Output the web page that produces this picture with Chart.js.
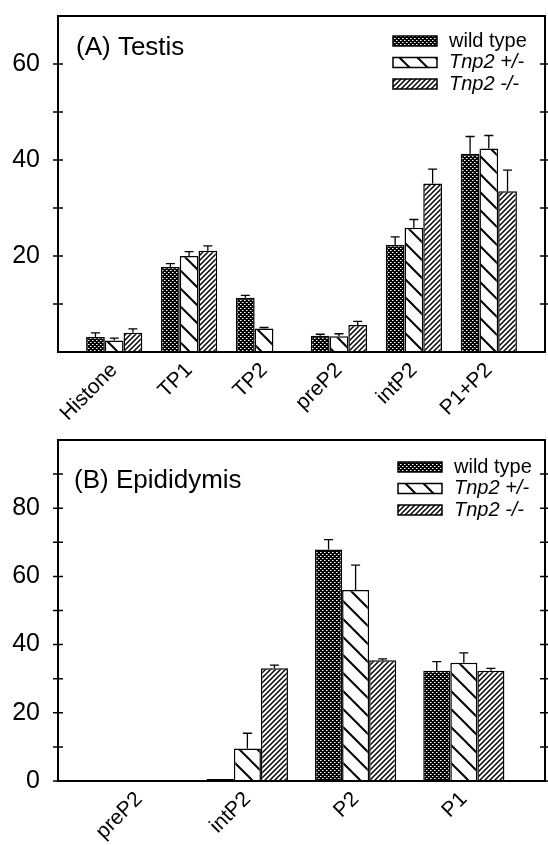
<!DOCTYPE html>
<html>
<head>
<meta charset="utf-8">
<script src="https://cdn.jsdelivr.net/npm/chart.js@4.4.0/dist/chart.umd.min.js"></script>
<style>
  html, body { margin: 0; padding: 0; background: #fff; }
  #wrap { position: relative; width: 548px; height: 845px; }
  canvas { position: absolute; left: 0; }
  #testis { top: 0; }
  #epididymis { top: 420px; }
</style>
</head>
<body>
<div id="wrap">
  <canvas id="testis" width="548" height="420"></canvas>
  <canvas id="epididymis" width="548" height="425"></canvas>
</div>
<script>
const seriesNames = ['wild type', 'Tnp2 +/-', 'Tnp2 -/-'];

// (A) Testis
const testisCategories = ['Histone', 'TP1', 'TP2', 'preP2', 'intP2', 'P1+P2'];
const testisWild = [3.1, 17.7, 11.3, 3.4, 22.3, 41.3];
const testisWildErr = [0.9, 0.7, 0.5, 0.3, 1.7, 3.6];
const testisHet = [2.4, 20.0, 4.9, 3.3, 25.9, 42.4];
const testisHetErr = [0.5, 0.9, 0.2, 0.5, 1.7, 2.7];
const testisNull = [4.0, 21.1, 0, 5.6, 35.1, 33.5];
const testisNullErr = [0.8, 1.0, 0, 0.8, 3.0, 4.4];

// (B) Epididymis
const epiCategories = ['preP2', 'intP2', 'P2', 'P1'];
const epiWild = [0, 0.6, 67.9, 32.3];
const epiWildErr = [0, 0, 2.9, 2.7];
const epiHet = [0, 9.5, 56.0, 34.7];
const epiHetErr = [0, 4.5, 7.3, 2.9];
const epiNull = [0, 33.1, 35.4, 32.3];
const epiNullErr = [0, 0.9, 0.4, 0.7];

const FONT = "'Liberation Sans', Arial, Helvetica, sans-serif";
Chart.defaults.font.family = FONT;
Chart.defaults.color = '#000';

function makePattern(size, draw) {
  const c = document.createElement('canvas');
  c.width = size;
  c.height = size;
  const g = c.getContext('2d');
  g.fillStyle = '#fff';
  g.fillRect(0, 0, size, size);
  draw(g, size);
  return g.createPattern(c, 'repeat');
}

const ctxA = document.getElementById('testis').getContext('2d');

// dark checker with little white dots
const wildFill = makePattern(4, (g) => {
  g.fillStyle = '#000';
  g.fillRect(0, 0, 4, 4);
  g.fillStyle = '#fff';
  g.fillRect(0, 0, 1, 1);
  g.fillRect(2, 2, 1, 1);
  g.fillStyle = '#888';
  g.fillRect(1, 0, 1, 1);
  g.fillRect(3, 2, 1, 1);
});

// wide "\" hatch
const hetFill = makePattern(18, (g, s) => {
  g.strokeStyle = '#000';
  g.lineWidth = 2;
  [-s, 0, s].forEach((off) => {
    g.beginPath();
    g.moveTo(off - 2, -2);
    g.lineTo(off + s + 2, s + 2);
    g.stroke();
  });
});

// dense "/" hatch
const nullFill = makePattern(5, (g, s) => {
  g.strokeStyle = '#000';
  g.lineWidth = 1.5;
  [-s, 0, s].forEach((off) => {
    g.beginPath();
    g.moveTo(off - 2, s + 2);
    g.lineTo(off + s + 2, -2);
    g.stroke();
  });
});

const fills = [wildFill, hetFill, nullFill];

const panelPlugin = {
  id: 'panel',
  afterDatasetsDraw(chart, args, opts) {
    const ctx = chart.ctx;
    const y = chart.scales.y;
    ctx.save();
    ctx.strokeStyle = '#000';
    ctx.lineWidth = 1.3;
    chart.data.datasets.forEach((ds, i) => {
      const meta = chart.getDatasetMeta(i);
      meta.data.forEach((bar, j) => {
        const e = ds.errors[j];
        if (!e) return;
        const top = y.getPixelForValue(ds.data[j] + e);
        ctx.beginPath();
        ctx.moveTo(bar.x, bar.y);
        ctx.lineTo(bar.x, top);
        ctx.moveTo(bar.x - 4.5, top);
        ctx.lineTo(bar.x + 4.5, top);
        ctx.stroke();
      });
    });
    ctx.restore();
  },
  afterDraw(chart, args, opts) {
    const ctx = chart.ctx;
    const a = chart.chartArea;
    const y = chart.scales.y;
    ctx.save();
    ctx.strokeStyle = '#000';
    ctx.lineWidth = 2;
    ctx.strokeRect(a.left, a.top, a.right - a.left, a.bottom - a.top);

    // minor + major ticks on both sides
    ctx.lineWidth = 1.5;
    for (let v = opts.tickFrom; v < y.max; v += 10) {
      const py = y.getPixelForValue(v);
      ctx.beginPath();
      ctx.moveTo(a.left - 5, py);
      ctx.lineTo(a.left + 5, py);
      ctx.moveTo(a.right - 5, py);
      ctx.lineTo(a.right + 5, py);
      ctx.stroke();
    }

    // panel title
    ctx.fillStyle = '#000';
    ctx.font = '26px ' + FONT;
    ctx.textBaseline = 'alphabetic';
    ctx.textAlign = 'left';
    ctx.fillText(opts.title, opts.titleX, opts.titleY);

    // legend
    chart.data.datasets.forEach((ds, i) => {
      const cy = opts.legendY + i * opts.legendGap;
      ctx.fillStyle = ds.backgroundColor;
      ctx.fillRect(opts.legendX, cy - 5, 44, 10);
      ctx.lineWidth = 1.5;
      ctx.strokeRect(opts.legendX, cy - 5, 44, 10);
      ctx.fillStyle = '#000';
      ctx.textBaseline = 'middle';
      const tx = opts.legendX + 56;
      ctx.font = (ds.label.indexOf('Tnp2') === 0 ? 'italic ' : '') + '20px ' + FONT;
      ctx.fillText(ds.label, tx, cy);
    });
    ctx.restore();
  }
};

function drawPanel(ctx, cats, values, errors, cfg) {
  return new Chart(ctx, {
    type: 'bar',
    data: {
      labels: cats.map((c, i) => i),
      datasets: values.map((vals, i) => ({
        label: seriesNames[i],
        data: vals,
        errors: errors[i],
        backgroundColor: fills[i],
        borderColor: '#000',
        borderWidth: 1.5,
        categoryPercentage: 0.75,
        barPercentage: 1.0
      }))
    },
    options: {
      responsive: false,
      animation: false,
      layout: { padding: { top: cfg.top, right: 3, left: 0, bottom: 0 } },
      plugins: {
        legend: { display: false },
        tooltip: { enabled: false },
        panel: cfg
      },
      scales: {
        x: {
          type: 'linear',
          offset: false,
          min: -0.75,
          max: cats.length - 0.25,
          grid: { display: false, drawTicks: false },
          border: { display: false },
          afterBuildTicks: (scale) => {
            scale.ticks = cats.map((c, i) => ({ value: i }));
          },
          afterFit: (scale) => {
            scale.height = cfg.xHeight;
            scale.paddingLeft = 0;
            scale.paddingRight = 0;
          },
          ticks: {
            autoSkip: false,
            minRotation: 45,
            maxRotation: 45,
            padding: 6,
            font: { size: 21 },
            callback: (v) => cats[Math.round(v)]
          }
        },
        y: {
          min: 0,
          max: cfg.yMax,
          grid: { display: false, drawTicks: false },
          border: { display: false },
          afterFit: (scale) => {
            scale.width = 58;
            scale.paddingTop = 0;
            scale.paddingBottom = 0;
          },
          ticks: {
            stepSize: 20,
            padding: 18,
            font: { size: 25 },
            callback: (v) => (v < cfg.labelFrom || v > 80 || v > cfg.yMax - 10) ? '' : v
          }
        }
      }
    },
    plugins: [panelPlugin]
  });
}

drawPanel(ctxA, testisCategories,
  [testisWild, testisHet, testisNull],
  [testisWildErr, testisHetErr, testisNullErr],
  {
    top: 16, xHeight: 68, yMax: 70, labelFrom: 20, tickFrom: 10,
    title: '(A) Testis', titleX: 76, titleY: 55,
    legendX: 393, legendY: 41, legendGap: 21.5
  });

const ctxB = document.getElementById('epididymis').getContext('2d');
drawPanel(ctxB, epiCategories,
  [epiWild, epiHet, epiNull],
  [epiWildErr, epiHetErr, epiNullErr],
  {
    top: 20, xHeight: 64, yMax: 100, labelFrom: 0, tickFrom: 0,
    title: '(B) Epididymis', titleX: 74, titleY: 68,
    legendX: 398, legendY: 47, legendGap: 21.5
  });
</script>
</body>
</html>
